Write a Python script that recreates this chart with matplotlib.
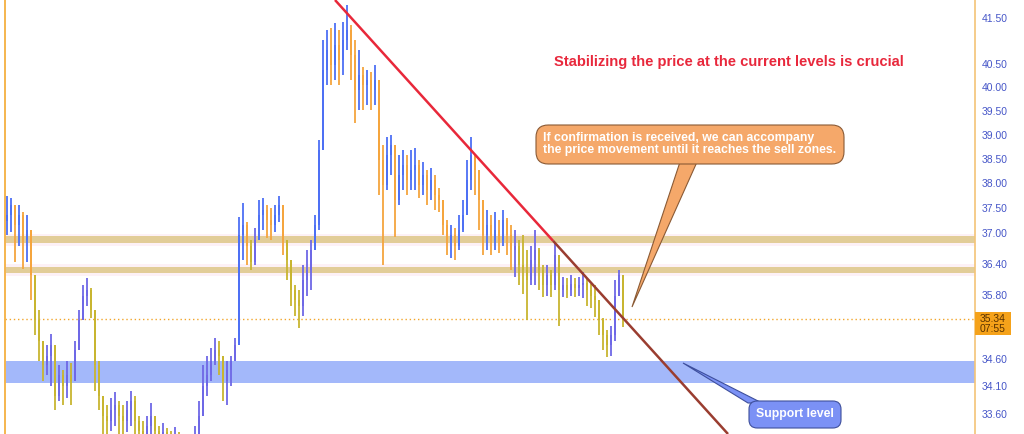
import numpy as np
import matplotlib
matplotlib.use("Agg")
import matplotlib.pyplot as plt
from matplotlib.patches import FancyBboxPatch, Polygon, Rectangle

# ---------------- data (prices) ----------------
closes = [37.36, 37.56, 37.16, 37.36, 36.86, 37.06, 36.18, 35.32, 34.94, 34.48,
          34.66, 34.85, 33.93, 34.30, 34.11, 34.30, 34.20, 34.76, 35.32, 35.79,
          35.89, 35.51, 34.48, 33.93, 33.57, 33.48, 33.66, 33.75, 33.57, 33.48,
          33.66, 33.84, 33.48, 33.30, 33.21, 33.39, 33.57, 33.30, 33.16, 33.27,
          33.12, 33.04, 33.16, 33.04, 32.95, 32.98, 33.04, 33.12, 33.57, 34.11,
          34.30, 34.57, 34.76, 34.66, 34.20, 34.39, 34.57, 34.85, 36.96, 37.16,
          36.76, 36.43, 36.86, 37.36, 37.46, 37.26, 37.16, 37.36, 37.56, 36.86,
          36.47, 35.89, 35.70, 35.60, 36.08, 36.28, 36.67, 37.16, 38.68, 40.37,
          40.80, 40.48, 40.91, 40.59, 41.02, 41.24, 40.69, 39.94, 40.26, 40.05,
          40.15, 39.94, 40.15, 38.47, 37.96, 38.58, 38.78, 37.66, 38.17, 38.37,
          38.06, 38.27, 38.37, 37.96, 38.17, 37.86, 38.06, 37.76, 37.66, 37.16,
          36.86, 36.96, 36.76, 37.06, 37.36, 38.06, 38.58, 38.27, 37.66, 36.96,
          37.16, 36.86, 37.06, 36.86, 37.26, 36.96, 36.67, 36.76, 36.37, 36.28,
          36.08, 36.47, 36.67, 36.28, 35.99, 36.18, 35.99, 36.57, 35.89, 35.99,
          35.89, 36.02, 35.93, 35.99, 36.04, 35.89, 35.79, 35.70, 35.32, 35.04,
          34.85, 35.04, 35.79, 36.18, 35.34]
highs = [37.74, 37.70, 37.46, 37.56, 37.42, 37.36, 36.57, 35.79, 35.51, 34.94,
         34.85, 35.07, 34.48, 34.48, 34.39, 34.57, 34.53, 34.94, 35.51, 35.99,
         36.12, 35.93, 35.51, 34.57, 33.84, 33.75, 33.88, 33.99, 33.84, 33.75,
         33.84, 34.02, 33.93, 33.57, 33.48, 33.57, 33.80, 33.57, 33.39, 33.44,
         33.34, 33.30, 33.36, 33.27, 33.16, 33.20, 33.23, 33.39, 33.84, 34.48,
         34.66, 34.81, 34.98, 34.94, 34.66, 34.57, 34.66, 34.98, 37.32, 37.60,
         37.22, 36.86, 37.10, 37.66, 37.70, 37.56, 37.50, 37.56, 37.74, 37.36,
         36.86, 36.37, 35.99, 35.89, 36.37, 36.67, 36.86, 37.36, 38.89, 41.02,
         41.24, 41.29, 41.40, 41.24, 41.42, 41.80, 41.35, 41.02, 40.80, 40.43,
         40.37, 40.32, 40.48, 39.73, 38.78, 38.95, 38.99, 38.47, 38.58, 38.68,
         38.58, 38.68, 38.72, 38.47, 38.43, 38.27, 38.31, 38.17, 37.90, 37.56,
         37.26, 37.16, 37.10, 37.36, 37.66, 38.47, 38.95, 38.47, 38.17, 37.46,
         37.46, 37.36, 37.42, 37.26, 37.46, 37.30, 37.16, 37.06, 36.86, 36.96,
         36.67, 36.76, 37.06, 36.71, 36.37, 36.37, 36.28, 36.80, 36.47, 36.14,
         36.12, 36.18, 36.12, 36.14, 36.24, 36.12, 36.02, 35.99, 35.60, 35.36,
         35.13, 35.22, 36.08, 36.28, 35.89]
lows = [36.96, 37.02, 36.43, 36.76, 36.31, 36.43, 35.70, 35.04, 34.57, 34.20,
        34.30, 34.11, 33.66, 33.84, 33.75, 33.88, 33.75, 34.30, 34.85, 35.32,
        35.60, 35.36, 34.02, 33.66, 33.23, 33.12, 33.30, 33.39, 33.12, 33.12,
        33.27, 33.39, 33.12, 33.04, 32.95, 33.04, 33.12, 32.95, 32.86, 32.91,
        32.77, 32.69, 32.81, 32.69, 32.60, 32.63, 32.69, 32.77, 33.04, 33.66,
        33.93, 34.20, 34.48, 34.30, 33.84, 33.75, 34.11, 34.57, 34.85, 36.47,
        36.37, 36.28, 36.37, 36.86, 37.06, 36.90, 36.86, 37.02, 37.22, 36.57,
        36.08, 35.60, 35.41, 35.17, 35.41, 35.79, 35.89, 36.67, 37.06, 38.68,
        40.05, 40.05, 40.15, 40.05, 40.26, 40.80, 40.15, 39.24, 39.51, 39.51,
        39.62, 39.51, 39.62, 37.76, 36.37, 37.86, 38.17, 36.92, 37.56, 37.86,
        37.76, 37.86, 37.86, 37.70, 37.76, 37.56, 37.66, 37.46, 37.42, 36.96,
        36.57, 36.51, 36.47, 36.67, 37.02, 37.46, 37.86, 37.76, 37.06, 36.57,
        36.67, 36.57, 36.67, 36.61, 36.76, 36.57, 36.28, 36.14, 35.99, 35.83,
        35.32, 35.99, 35.99, 35.89, 35.76, 35.79, 35.76, 35.89, 35.22, 35.76,
        35.74, 35.79, 35.76, 35.79, 35.74, 35.60, 35.56, 35.38, 35.04, 34.76,
        34.63, 34.66, 34.94, 35.79, 35.19]
first_open = 37.25

tick_values = [41.50, 40.50, 40.00, 39.50, 39.00, 38.50, 38.00, 37.50,
               37.00, 36.40, 35.80, 34.60, 34.10, 33.60]
tick_labels = ["41.50", "40.50", "40.00", "39.50", "39.00", "38.50", "38.00",
               "37.50", "37.00", "36.40", "35.80", "34.60", "34.10", "33.60"]
resistance_zones = [(36.80, 36.94), (36.22, 36.35)]
support_zone = (34.15, 34.57)
current_price = 35.34
countdown = "07:55"
trend_idx = [82.0, 180.25]
trend_price = [41.91, 33.24]
trend_break_idx = 136.5

title_text = "Stabilizing the price at the current levels is crucial"
callout_text = ("If confirmation is received, we can accompany\n"
                "the price movement until it reaches the sell zones.")
support_text = "Support level"

# ---------------- figure ----------------
W, H = 1024, 434
fig = plt.figure(figsize=(W / 100, H / 100), dpi=100)
fig.patch.set_facecolor("white")
ax = fig.add_axes([5 / W, 0, 970 / W, 1])
ax.set_facecolor("white")
ax.set_yscale("log")
ymin, ymax = 33.24, 41.91
ax.set_ylim(ymin, ymax)
ax.set_xlim(-0.5, 242)

FONT = ["Liberation Sans", "DejaVu Sans"]

# zones
for lo, hi in resistance_zones:
    ax.axhspan(lo * 0.9985, hi * 1.0015, color="#fdf1f6", zorder=0.5, lw=0)
    ax.axhspan(lo, hi, color="#e2cd98", zorder=1, lw=0)
ax.axhspan(support_zone[0], support_zone[1], color="#a3b8fa", zorder=1, lw=0)
ax.axhline(current_price, color="#f2a52a", lw=1.0, ls=(0, (1, 2)), zorder=1.2)

# candles
n = len(closes)
opens = [first_open] + closes[:-1]
for i in range(n):
    o, c, h, l = opens[i], closes[i], highs[i], lows[i]
    up = c >= o
    above = max(o, c) > 36.95
    if up:
        col = "#4d70f4" if above else "#6e68e6"
    else:
        col = "#f5a53e" if above else "#c8b530"
    ax.vlines(i, l, h, color=col, lw=1.3, zorder=2)
    bot, top = min(o, c), max(o, c)
    if top - bot < 0.03:
        top = bot + 0.03
    ax.bar(i, top - bot, bottom=bot, width=0.7, color=col, lw=0, zorder=2.1)

# trend line (two colours)
lp0, lp1 = np.log(trend_price[0]), np.log(trend_price[1])
t = (trend_break_idx - trend_idx[0]) / (trend_idx[1] - trend_idx[0])
pbreak = np.exp(lp0 + t * (lp1 - lp0))
ax.plot([trend_idx[0], trend_break_idx], [trend_price[0], pbreak],
        color="#e8283a", lw=1.8, zorder=3, solid_capstyle="butt")
ax.plot([trend_break_idx, trend_idx[1]], [pbreak, trend_price[1]],
        color="#9a3d30", lw=1.8, zorder=3, solid_capstyle="butt")

# spines / axis
for s in ["top", "bottom", "right"]:
    ax.spines[s].set_visible(False)
ax.spines["left"].set_color("#f5b54e")
ax.spines["left"].set_linewidth(1.4)
ax.set_xticks([])
ax.yaxis.tick_right()
ax.yaxis.set_minor_locator(matplotlib.ticker.NullLocator())
ax.set_yticks(tick_values)
ax.set_yticklabels(tick_labels, fontsize=7.5, color="#4656c8", family=FONT)
ax.tick_params(axis="y", length=0, pad=5)
ax.yaxis.set_minor_formatter(matplotlib.ticker.NullFormatter())

# right axis separator
fig.add_artist(plt.Line2D([975 / W, 975 / W], [0, 1], color="#f3c477",
                          lw=1.2, transform=fig.transFigure))


def fp(x, y):
    return (x / W, 1 - y / H)


# current price label
fig.add_artist(Rectangle(fp(975, 335), 36 / W, 23 / H, transform=fig.transFigure,
                         facecolor="#f5a21a", edgecolor="none", zorder=6))
fig.text(*fp(993, 319), f"{current_price:.2f}", ha="center", va="center",
         fontsize=7.5, color="#5a3200", family=FONT, zorder=7)
fig.text(*fp(993, 329), countdown, ha="center", va="center",
         fontsize=7.5, color="#5a3200", family=FONT, zorder=7)

# title
fig.text(*fp(729, 62), title_text, ha="center", va="center", fontsize=10.6,
         fontweight="bold", color="#e8283c", family=FONT)

# orange callout
orange = "#f5a86a"
edge_o = "#8a5a35"
fig.add_artist(Polygon([fp(680, 162), fp(697, 162), fp(632, 307)], closed=True,
                       transform=fig.transFigure, facecolor=orange,
                       edgecolor=edge_o, lw=0.8, zorder=8))
fig.add_artist(FancyBboxPatch(fp(536, 164), 308 / W, 39 / H,
                              boxstyle="round,pad=0,rounding_size=0.012",
                              transform=fig.transFigure, facecolor=orange,
                              edgecolor=edge_o, lw=0.8, zorder=9,
                              mutation_aspect=W / H))
fig.text(*fp(543, 144), callout_text, ha="left", va="center", fontsize=8.8,
         fontweight="bold", color="white", family=FONT, linespacing=1.05,
         zorder=10)

# support callout
blue = "#7b91f5"
edge_b = "#3e4f9c"
fig.add_artist(Polygon([fp(683, 363), fp(748, 403), fp(762, 403)], closed=True,
                       transform=fig.transFigure, facecolor=blue,
                       edgecolor=edge_b, lw=0.8, zorder=8))
fig.add_artist(FancyBboxPatch(fp(749, 428), 92 / W, 27 / H,
                              boxstyle="round,pad=0,rounding_size=0.008",
                              transform=fig.transFigure, facecolor=blue,
                              edgecolor=edge_b, lw=0.8, zorder=9,
                              mutation_aspect=W / H))
fig.text(*fp(795, 414), support_text, ha="center", va="center", fontsize=8.8,
         fontweight="bold", color="white", family=FONT, zorder=10)

fig.savefig("out.png", dpi=100, facecolor="white")
